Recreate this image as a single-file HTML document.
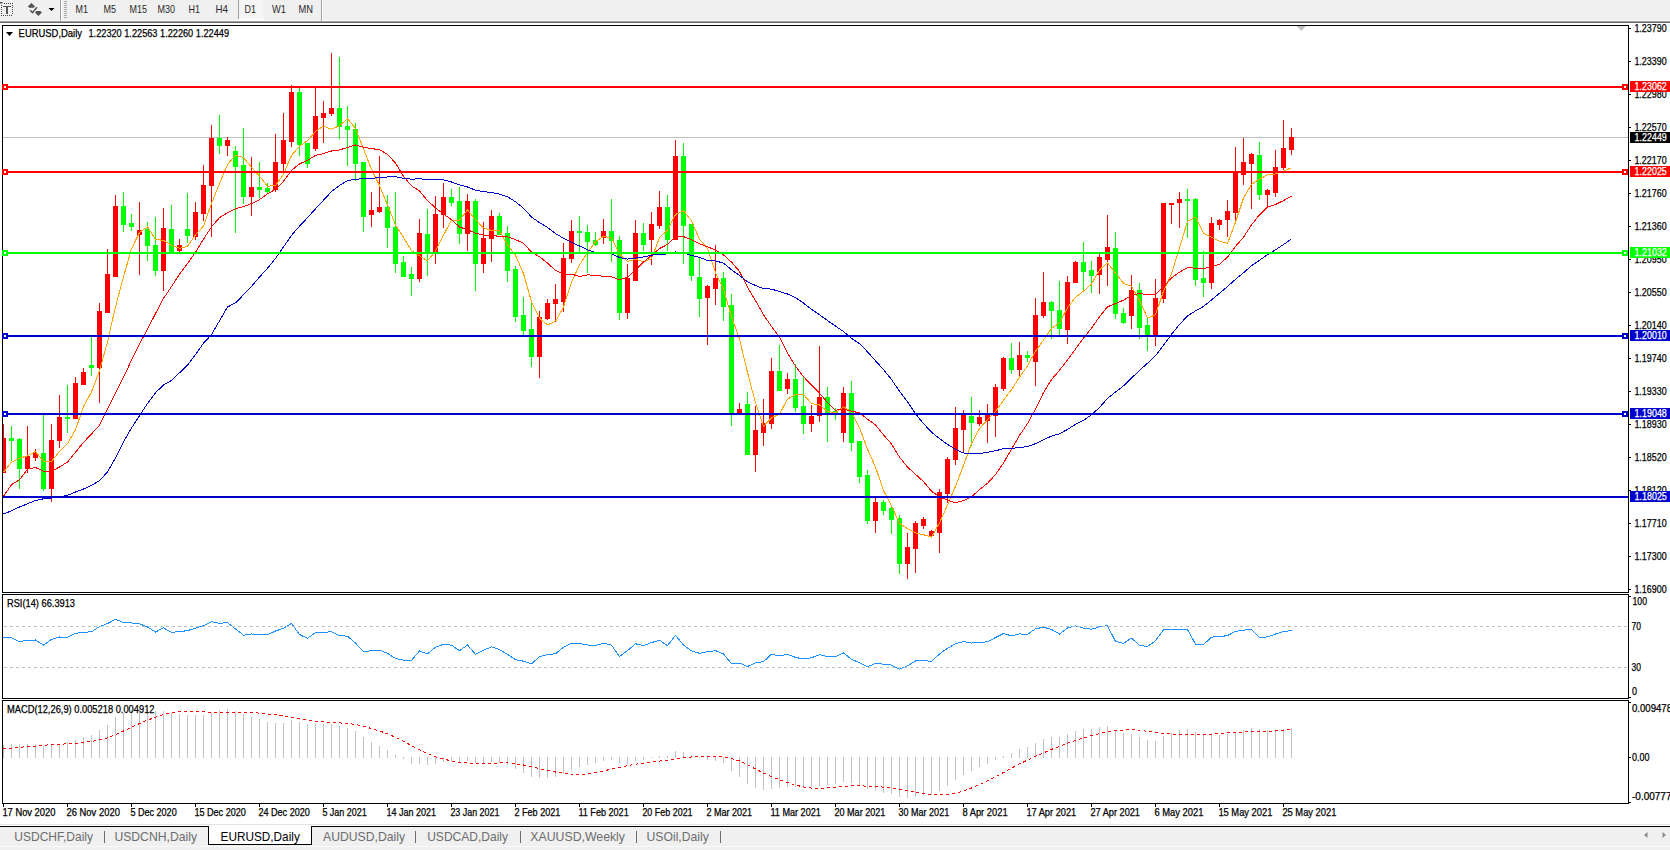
<!DOCTYPE html>
<html><head><meta charset="utf-8"><title>EURUSD,Daily</title>
<style>html,body{margin:0;padding:0;background:#fff;overflow:hidden;}svg{display:block;}text{font-family:"Liberation Sans", sans-serif;}</style>
</head><body>
<svg width="1670" height="850" viewBox="0 0 1670 850" font-family='"Liberation Sans", sans-serif'><rect x="0" y="0" width="1670" height="20" fill="#f0f0f0"/>
<rect x="0" y="20" width="1670" height="1" fill="#fafafa"/>
<rect x="0" y="21" width="1670" height="1" fill="#a0a0a0"/>
<rect x="0" y="22" width="1670" height="1" fill="#696969"/>
<rect x="4" y="3" width="1" height="1" fill="#444"/>
<rect x="6" y="3" width="1" height="1" fill="#444"/>
<rect x="8" y="3" width="1" height="1" fill="#444"/>
<rect x="10" y="3" width="1" height="1" fill="#444"/>
<rect x="12" y="3" width="1" height="1" fill="#444"/>
<rect x="1" y="5" width="1" height="1" fill="#444"/>
<rect x="1" y="7" width="1" height="1" fill="#444"/>
<rect x="1" y="9" width="1" height="1" fill="#444"/>
<rect x="1" y="11" width="1" height="1" fill="#444"/>
<rect x="1" y="13" width="1" height="1" fill="#444"/>
<rect x="1" y="15" width="1" height="1" fill="#444"/>
<rect x="3" y="15" width="1" height="1" fill="#444"/>
<rect x="5" y="15" width="1" height="1" fill="#444"/>
<rect x="7" y="15" width="1" height="1" fill="#444"/>
<rect x="9" y="15" width="1" height="1" fill="#444"/>
<rect x="11" y="15" width="1" height="1" fill="#444"/>
<rect x="12" y="5" width="1" height="1" fill="#444"/>
<rect x="12" y="7" width="1" height="1" fill="#444"/>
<rect x="12" y="9" width="1" height="1" fill="#444"/>
<rect x="12" y="11" width="1" height="1" fill="#444"/>
<rect x="12" y="13" width="1" height="1" fill="#444"/>
<rect x="0" y="2" width="2.5" height="1.4" fill="#444"/>
<rect x="3" y="6" width="8" height="1" fill="#555"/>
<rect x="6" y="6" width="2" height="8" fill="#555"/>
<path d="M31.4,2.9 L35,6.4 L33.6,7.7 L29.3,7.7 L27.9,6.4 Z" fill="#505050"/>
<path d="M36.6,11.1 L40.3,11.1 L41.9,12.5 L38.4,16 L35,12.5 Z" fill="#505050"/>
<path d="M30.2,10.3 L32.5,12.6 L36.9,7.3" fill="none" stroke="#505050" stroke-width="1.4"/>
<path d="M48.5,8 L54.5,8 L51.5,11 Z" fill="#000"/>
<rect x="60" y="0" width="1" height="21" fill="#a0a0a0"/>
<rect x="61" y="0" width="1" height="21" fill="#ffffff"/>
<rect x="64" y="1" width="3" height="1" fill="#a8a8a8"/>
<rect x="64" y="3" width="3" height="1" fill="#a8a8a8"/>
<rect x="64" y="5" width="3" height="1" fill="#a8a8a8"/>
<rect x="64" y="7" width="3" height="1" fill="#a8a8a8"/>
<rect x="64" y="9" width="3" height="1" fill="#a8a8a8"/>
<rect x="64" y="11" width="3" height="1" fill="#a8a8a8"/>
<rect x="64" y="13" width="3" height="1" fill="#a8a8a8"/>
<rect x="64" y="15" width="3" height="1" fill="#a8a8a8"/>
<rect x="64" y="17" width="3" height="1" fill="#a8a8a8"/>
<defs><pattern id="chk" width="2" height="2" patternUnits="userSpaceOnUse"><rect width="2" height="2" fill="#f0f0f0"/><rect width="1" height="1" fill="#fafafa"/><rect x="1" y="1" width="1" height="1" fill="#fafafa"/></pattern></defs>
<rect x="239" y="0" width="24" height="19" fill="url(#chk)"/>
<rect x="238" y="0" width="1" height="19" fill="#a0a0a0"/>
<rect x="238" y="19" width="26" height="1" fill="#ffffff"/>
<rect x="321" y="0" width="1" height="21" fill="#a0a0a0"/>
<rect x="322" y="0" width="1" height="21" fill="#ffffff"/>
<text x="75.5" y="13.2" font-size="10.4" fill="#2a2a2a" text-anchor="start" font-weight="normal" textLength="12.5" lengthAdjust="spacingAndGlyphs">M1</text>
<text x="103.5" y="13.2" font-size="10.4" fill="#2a2a2a" text-anchor="start" font-weight="normal" textLength="12.5" lengthAdjust="spacingAndGlyphs">M5</text>
<text x="129.5" y="13.2" font-size="10.4" fill="#2a2a2a" text-anchor="start" font-weight="normal" textLength="17.5" lengthAdjust="spacingAndGlyphs">M15</text>
<text x="157.5" y="13.2" font-size="10.4" fill="#2a2a2a" text-anchor="start" font-weight="normal" textLength="17.5" lengthAdjust="spacingAndGlyphs">M30</text>
<text x="188.5" y="13.2" font-size="10.4" fill="#2a2a2a" text-anchor="start" font-weight="normal" textLength="11.5" lengthAdjust="spacingAndGlyphs">H1</text>
<text x="215.5" y="13.2" font-size="10.4" fill="#2a2a2a" text-anchor="start" font-weight="normal" textLength="12.5" lengthAdjust="spacingAndGlyphs">H4</text>
<text x="244.5" y="13.2" font-size="10.4" fill="#2a2a2a" text-anchor="start" font-weight="normal" textLength="11.5" lengthAdjust="spacingAndGlyphs">D1</text>
<text x="272" y="13.2" font-size="10.4" fill="#2a2a2a" text-anchor="start" font-weight="normal" textLength="14" lengthAdjust="spacingAndGlyphs">W1</text>
<text x="298.5" y="13.2" font-size="10.4" fill="#2a2a2a" text-anchor="start" font-weight="normal" textLength="14.5" lengthAdjust="spacingAndGlyphs">MN</text>
<rect x="0" y="23" width="1670" height="801" fill="#ffffff"/>
<rect x="2" y="25" width="1627" height="1" fill="#000"/>
<rect x="2" y="592" width="1627" height="1" fill="#000"/>
<rect x="2" y="25" width="1" height="568" fill="#000"/>
<rect x="1628" y="25" width="1" height="568" fill="#000"/>
<rect x="2" y="594" width="1627" height="1" fill="#000"/>
<rect x="2" y="698" width="1627" height="1" fill="#000"/>
<rect x="2" y="594" width="1" height="105" fill="#000"/>
<rect x="1628" y="594" width="1" height="105" fill="#000"/>
<rect x="2" y="700" width="1627" height="1" fill="#000"/>
<rect x="2" y="803" width="1627" height="1" fill="#000"/>
<rect x="2" y="700" width="1" height="104" fill="#000"/>
<rect x="1628" y="700" width="1" height="104" fill="#000"/>
<rect x="1629" y="28" width="2" height="1" fill="#000"/>
<text x="1634.4" y="32" font-size="10.2" fill="#000" text-anchor="start" font-weight="normal" textLength="32.2" lengthAdjust="spacingAndGlyphs" stroke="#000" stroke-width="0.25">1.23790</text>
<rect x="1629" y="61" width="2" height="1" fill="#000"/>
<text x="1634.4" y="65" font-size="10.2" fill="#000" text-anchor="start" font-weight="normal" textLength="32.2" lengthAdjust="spacingAndGlyphs" stroke="#000" stroke-width="0.25">1.23390</text>
<rect x="1629" y="94" width="2" height="1" fill="#000"/>
<text x="1634.4" y="98" font-size="10.2" fill="#000" text-anchor="start" font-weight="normal" textLength="32.2" lengthAdjust="spacingAndGlyphs" stroke="#000" stroke-width="0.25">1.22980</text>
<rect x="1629" y="127" width="2" height="1" fill="#000"/>
<text x="1634.4" y="131" font-size="10.2" fill="#000" text-anchor="start" font-weight="normal" textLength="32.2" lengthAdjust="spacingAndGlyphs" stroke="#000" stroke-width="0.25">1.22570</text>
<rect x="1629" y="160" width="2" height="1" fill="#000"/>
<text x="1634.4" y="164" font-size="10.2" fill="#000" text-anchor="start" font-weight="normal" textLength="32.2" lengthAdjust="spacingAndGlyphs" stroke="#000" stroke-width="0.25">1.22170</text>
<rect x="1629" y="193" width="2" height="1" fill="#000"/>
<text x="1634.4" y="197" font-size="10.2" fill="#000" text-anchor="start" font-weight="normal" textLength="32.2" lengthAdjust="spacingAndGlyphs" stroke="#000" stroke-width="0.25">1.21760</text>
<rect x="1629" y="226" width="2" height="1" fill="#000"/>
<text x="1634.4" y="230" font-size="10.2" fill="#000" text-anchor="start" font-weight="normal" textLength="32.2" lengthAdjust="spacingAndGlyphs" stroke="#000" stroke-width="0.25">1.21360</text>
<rect x="1629" y="259" width="2" height="1" fill="#000"/>
<text x="1634.4" y="263" font-size="10.2" fill="#000" text-anchor="start" font-weight="normal" textLength="32.2" lengthAdjust="spacingAndGlyphs" stroke="#000" stroke-width="0.25">1.20950</text>
<rect x="1629" y="292" width="2" height="1" fill="#000"/>
<text x="1634.4" y="296" font-size="10.2" fill="#000" text-anchor="start" font-weight="normal" textLength="32.2" lengthAdjust="spacingAndGlyphs" stroke="#000" stroke-width="0.25">1.20550</text>
<rect x="1629" y="325" width="2" height="1" fill="#000"/>
<text x="1634.4" y="329" font-size="10.2" fill="#000" text-anchor="start" font-weight="normal" textLength="32.2" lengthAdjust="spacingAndGlyphs" stroke="#000" stroke-width="0.25">1.20140</text>
<rect x="1629" y="358" width="2" height="1" fill="#000"/>
<text x="1634.4" y="362" font-size="10.2" fill="#000" text-anchor="start" font-weight="normal" textLength="32.2" lengthAdjust="spacingAndGlyphs" stroke="#000" stroke-width="0.25">1.19740</text>
<rect x="1629" y="391" width="2" height="1" fill="#000"/>
<text x="1634.4" y="395" font-size="10.2" fill="#000" text-anchor="start" font-weight="normal" textLength="32.2" lengthAdjust="spacingAndGlyphs" stroke="#000" stroke-width="0.25">1.19330</text>
<rect x="1629" y="424" width="2" height="1" fill="#000"/>
<text x="1634.4" y="428" font-size="10.2" fill="#000" text-anchor="start" font-weight="normal" textLength="32.2" lengthAdjust="spacingAndGlyphs" stroke="#000" stroke-width="0.25">1.18930</text>
<rect x="1629" y="457" width="2" height="1" fill="#000"/>
<text x="1634.4" y="461" font-size="10.2" fill="#000" text-anchor="start" font-weight="normal" textLength="32.2" lengthAdjust="spacingAndGlyphs" stroke="#000" stroke-width="0.25">1.18520</text>
<rect x="1629" y="490" width="2" height="1" fill="#000"/>
<text x="1634.4" y="494" font-size="10.2" fill="#000" text-anchor="start" font-weight="normal" textLength="32.2" lengthAdjust="spacingAndGlyphs" stroke="#000" stroke-width="0.25">1.18120</text>
<rect x="1629" y="523" width="2" height="1" fill="#000"/>
<text x="1634.4" y="527" font-size="10.2" fill="#000" text-anchor="start" font-weight="normal" textLength="32.2" lengthAdjust="spacingAndGlyphs" stroke="#000" stroke-width="0.25">1.17710</text>
<rect x="1629" y="556" width="2" height="1" fill="#000"/>
<text x="1634.4" y="560" font-size="10.2" fill="#000" text-anchor="start" font-weight="normal" textLength="32.2" lengthAdjust="spacingAndGlyphs" stroke="#000" stroke-width="0.25">1.17300</text>
<rect x="1629" y="589" width="2" height="1" fill="#000"/>
<text x="1634.4" y="593" font-size="10.2" fill="#000" text-anchor="start" font-weight="normal" textLength="32.2" lengthAdjust="spacingAndGlyphs" stroke="#000" stroke-width="0.25">1.16900</text>
<path d="M1296.6,26 L1306,26 L1301.3,31 Z" fill="#c0c0c0"/>
<rect x="3" y="137" width="1625" height="1" fill="#c0c0c0"/>
<g shape-rendering="crispEdges">
<rect x="3" y="424" width="1" height="49" fill="#ff0000"/>
<rect x="3" y="438" width="3" height="35" fill="#ff0000"/>
<rect x="11" y="426" width="1" height="35" fill="#00ff00"/>
<rect x="9" y="438" width="5" height="3" fill="#00ff00"/>
<rect x="19" y="438" width="1" height="51" fill="#00ff00"/>
<rect x="17" y="439" width="5" height="30" fill="#00ff00"/>
<rect x="27" y="426" width="1" height="47" fill="#ff0000"/>
<rect x="25" y="456" width="5" height="13" fill="#ff0000"/>
<rect x="35" y="449" width="1" height="12" fill="#ff0000"/>
<rect x="33" y="453" width="5" height="5" fill="#ff0000"/>
<rect x="43" y="415" width="1" height="76" fill="#00ff00"/>
<rect x="41" y="453" width="5" height="36" fill="#00ff00"/>
<rect x="51" y="424" width="1" height="78" fill="#ff0000"/>
<rect x="49" y="440" width="5" height="49" fill="#ff0000"/>
<rect x="59" y="395" width="1" height="53" fill="#ff0000"/>
<rect x="57" y="417" width="5" height="24" fill="#ff0000"/>
<rect x="67" y="385" width="1" height="48" fill="#00ff00"/>
<rect x="65" y="417" width="5" height="2" fill="#00ff00"/>
<rect x="75" y="377" width="1" height="42" fill="#ff0000"/>
<rect x="73" y="383" width="5" height="36" fill="#ff0000"/>
<rect x="83" y="368" width="1" height="17" fill="#ff0000"/>
<rect x="81" y="372" width="5" height="13" fill="#ff0000"/>
<rect x="91" y="337" width="1" height="39" fill="#00ff00"/>
<rect x="89" y="365" width="5" height="3" fill="#00ff00"/>
<rect x="99" y="303" width="1" height="100" fill="#ff0000"/>
<rect x="97" y="311" width="5" height="57" fill="#ff0000"/>
<rect x="107" y="249" width="1" height="64" fill="#ff0000"/>
<rect x="105" y="274" width="5" height="39" fill="#ff0000"/>
<rect x="115" y="195" width="1" height="82" fill="#ff0000"/>
<rect x="113" y="206" width="5" height="71" fill="#ff0000"/>
<rect x="123" y="192" width="1" height="40" fill="#00ff00"/>
<rect x="121" y="206" width="5" height="19" fill="#00ff00"/>
<rect x="131" y="214" width="1" height="17" fill="#00ff00"/>
<rect x="129" y="223" width="5" height="4" fill="#00ff00"/>
<rect x="139" y="202" width="1" height="73" fill="#ff0000"/>
<rect x="137" y="230" width="5" height="5" fill="#ff0000"/>
<rect x="147" y="222" width="1" height="39" fill="#00ff00"/>
<rect x="145" y="229" width="5" height="17" fill="#00ff00"/>
<rect x="155" y="217" width="1" height="59" fill="#00ff00"/>
<rect x="153" y="245" width="5" height="26" fill="#00ff00"/>
<rect x="163" y="208" width="1" height="83" fill="#ff0000"/>
<rect x="161" y="228" width="5" height="43" fill="#ff0000"/>
<rect x="171" y="205" width="1" height="48" fill="#00ff00"/>
<rect x="169" y="229" width="5" height="23" fill="#00ff00"/>
<rect x="179" y="239" width="1" height="13" fill="#ff0000"/>
<rect x="177" y="245" width="5" height="6" fill="#ff0000"/>
<rect x="187" y="193" width="1" height="50" fill="#00ff00"/>
<rect x="185" y="229" width="5" height="7" fill="#00ff00"/>
<rect x="195" y="202" width="1" height="38" fill="#ff0000"/>
<rect x="193" y="212" width="5" height="25" fill="#ff0000"/>
<rect x="203" y="165" width="1" height="56" fill="#ff0000"/>
<rect x="201" y="185" width="5" height="29" fill="#ff0000"/>
<rect x="211" y="125" width="1" height="112" fill="#ff0000"/>
<rect x="209" y="138" width="5" height="48" fill="#ff0000"/>
<rect x="219" y="115" width="1" height="39" fill="#00ff00"/>
<rect x="217" y="138" width="5" height="8" fill="#00ff00"/>
<rect x="227" y="137" width="1" height="19" fill="#ff0000"/>
<rect x="225" y="140" width="5" height="6" fill="#ff0000"/>
<rect x="235" y="146" width="1" height="87" fill="#00ff00"/>
<rect x="233" y="151" width="5" height="16" fill="#00ff00"/>
<rect x="243" y="128" width="1" height="76" fill="#00ff00"/>
<rect x="241" y="165" width="5" height="32" fill="#00ff00"/>
<rect x="251" y="157" width="1" height="59" fill="#ff0000"/>
<rect x="249" y="187" width="5" height="10" fill="#ff0000"/>
<rect x="259" y="162" width="1" height="36" fill="#00ff00"/>
<rect x="257" y="187" width="5" height="3" fill="#00ff00"/>
<rect x="267" y="183" width="1" height="10" fill="#00ff00"/>
<rect x="265" y="188" width="5" height="4" fill="#00ff00"/>
<rect x="275" y="134" width="1" height="58" fill="#ff0000"/>
<rect x="273" y="162" width="5" height="28" fill="#ff0000"/>
<rect x="283" y="113" width="1" height="59" fill="#ff0000"/>
<rect x="281" y="140" width="5" height="24" fill="#ff0000"/>
<rect x="291" y="85" width="1" height="62" fill="#ff0000"/>
<rect x="289" y="92" width="5" height="50" fill="#ff0000"/>
<rect x="299" y="88" width="1" height="68" fill="#00ff00"/>
<rect x="297" y="92" width="5" height="53" fill="#00ff00"/>
<rect x="307" y="143" width="1" height="25" fill="#00ff00"/>
<rect x="305" y="143" width="5" height="21" fill="#00ff00"/>
<rect x="315" y="88" width="1" height="63" fill="#ff0000"/>
<rect x="313" y="116" width="5" height="33" fill="#ff0000"/>
<rect x="323" y="101" width="1" height="42" fill="#ff0000"/>
<rect x="321" y="113" width="5" height="5" fill="#ff0000"/>
<rect x="331" y="53" width="1" height="63" fill="#ff0000"/>
<rect x="329" y="108" width="5" height="6" fill="#ff0000"/>
<rect x="339" y="57" width="1" height="82" fill="#00ff00"/>
<rect x="337" y="108" width="5" height="19" fill="#00ff00"/>
<rect x="347" y="106" width="1" height="60" fill="#00ff00"/>
<rect x="345" y="126" width="5" height="4" fill="#00ff00"/>
<rect x="355" y="123" width="1" height="58" fill="#00ff00"/>
<rect x="353" y="129" width="5" height="35" fill="#00ff00"/>
<rect x="363" y="162" width="1" height="70" fill="#00ff00"/>
<rect x="361" y="162" width="5" height="55" fill="#00ff00"/>
<rect x="371" y="192" width="1" height="35" fill="#ff0000"/>
<rect x="369" y="210" width="5" height="5" fill="#ff0000"/>
<rect x="379" y="156" width="1" height="57" fill="#ff0000"/>
<rect x="377" y="207" width="5" height="5" fill="#ff0000"/>
<rect x="387" y="195" width="1" height="53" fill="#00ff00"/>
<rect x="385" y="207" width="5" height="21" fill="#00ff00"/>
<rect x="395" y="192" width="1" height="81" fill="#00ff00"/>
<rect x="393" y="227" width="5" height="37" fill="#00ff00"/>
<rect x="403" y="256" width="1" height="21" fill="#00ff00"/>
<rect x="401" y="262" width="5" height="15" fill="#00ff00"/>
<rect x="411" y="267" width="1" height="29" fill="#00ff00"/>
<rect x="409" y="274" width="5" height="5" fill="#00ff00"/>
<rect x="419" y="219" width="1" height="63" fill="#ff0000"/>
<rect x="417" y="233" width="5" height="46" fill="#ff0000"/>
<rect x="427" y="209" width="1" height="67" fill="#00ff00"/>
<rect x="425" y="234" width="5" height="19" fill="#00ff00"/>
<rect x="435" y="196" width="1" height="68" fill="#ff0000"/>
<rect x="433" y="214" width="5" height="39" fill="#ff0000"/>
<rect x="443" y="183" width="1" height="45" fill="#ff0000"/>
<rect x="441" y="197" width="5" height="18" fill="#ff0000"/>
<rect x="451" y="189" width="1" height="17" fill="#00ff00"/>
<rect x="449" y="197" width="5" height="6" fill="#00ff00"/>
<rect x="459" y="187" width="1" height="57" fill="#00ff00"/>
<rect x="457" y="201" width="5" height="33" fill="#00ff00"/>
<rect x="467" y="194" width="1" height="57" fill="#ff0000"/>
<rect x="465" y="201" width="5" height="33" fill="#ff0000"/>
<rect x="475" y="199" width="1" height="92" fill="#00ff00"/>
<rect x="473" y="201" width="5" height="63" fill="#00ff00"/>
<rect x="483" y="222" width="1" height="51" fill="#ff0000"/>
<rect x="481" y="238" width="5" height="26" fill="#ff0000"/>
<rect x="491" y="210" width="1" height="52" fill="#ff0000"/>
<rect x="489" y="216" width="5" height="23" fill="#ff0000"/>
<rect x="499" y="213" width="1" height="22" fill="#00ff00"/>
<rect x="497" y="216" width="5" height="19" fill="#00ff00"/>
<rect x="507" y="226" width="1" height="56" fill="#00ff00"/>
<rect x="505" y="233" width="5" height="38" fill="#00ff00"/>
<rect x="515" y="266" width="1" height="56" fill="#00ff00"/>
<rect x="513" y="269" width="5" height="48" fill="#00ff00"/>
<rect x="523" y="297" width="1" height="39" fill="#00ff00"/>
<rect x="521" y="315" width="5" height="16" fill="#00ff00"/>
<rect x="531" y="302" width="1" height="65" fill="#00ff00"/>
<rect x="529" y="329" width="5" height="28" fill="#00ff00"/>
<rect x="539" y="311" width="1" height="67" fill="#ff0000"/>
<rect x="537" y="317" width="5" height="40" fill="#ff0000"/>
<rect x="547" y="299" width="1" height="21" fill="#ff0000"/>
<rect x="545" y="303" width="5" height="16" fill="#ff0000"/>
<rect x="555" y="284" width="1" height="38" fill="#ff0000"/>
<rect x="553" y="299" width="5" height="5" fill="#ff0000"/>
<rect x="563" y="243" width="1" height="69" fill="#ff0000"/>
<rect x="561" y="258" width="5" height="44" fill="#ff0000"/>
<rect x="571" y="220" width="1" height="43" fill="#ff0000"/>
<rect x="569" y="231" width="5" height="28" fill="#ff0000"/>
<rect x="579" y="216" width="1" height="37" fill="#00ff00"/>
<rect x="577" y="231" width="5" height="2" fill="#00ff00"/>
<rect x="587" y="225" width="1" height="48" fill="#00ff00"/>
<rect x="585" y="232" width="5" height="10" fill="#00ff00"/>
<rect x="595" y="232" width="1" height="14" fill="#00ff00"/>
<rect x="593" y="240" width="5" height="5" fill="#00ff00"/>
<rect x="603" y="219" width="1" height="25" fill="#ff0000"/>
<rect x="601" y="231" width="5" height="7" fill="#ff0000"/>
<rect x="611" y="199" width="1" height="63" fill="#00ff00"/>
<rect x="609" y="231" width="5" height="10" fill="#00ff00"/>
<rect x="619" y="236" width="1" height="84" fill="#00ff00"/>
<rect x="617" y="240" width="5" height="73" fill="#00ff00"/>
<rect x="627" y="264" width="1" height="55" fill="#ff0000"/>
<rect x="625" y="278" width="5" height="35" fill="#ff0000"/>
<rect x="635" y="220" width="1" height="61" fill="#ff0000"/>
<rect x="633" y="233" width="5" height="48" fill="#ff0000"/>
<rect x="643" y="223" width="1" height="28" fill="#00ff00"/>
<rect x="641" y="233" width="5" height="12" fill="#00ff00"/>
<rect x="651" y="212" width="1" height="53" fill="#ff0000"/>
<rect x="649" y="224" width="5" height="16" fill="#ff0000"/>
<rect x="659" y="191" width="1" height="38" fill="#ff0000"/>
<rect x="657" y="207" width="5" height="19" fill="#ff0000"/>
<rect x="667" y="195" width="1" height="56" fill="#00ff00"/>
<rect x="665" y="207" width="5" height="33" fill="#00ff00"/>
<rect x="675" y="140" width="1" height="100" fill="#ff0000"/>
<rect x="673" y="156" width="5" height="84" fill="#ff0000"/>
<rect x="683" y="143" width="1" height="121" fill="#00ff00"/>
<rect x="681" y="156" width="5" height="70" fill="#00ff00"/>
<rect x="691" y="224" width="1" height="57" fill="#00ff00"/>
<rect x="689" y="224" width="5" height="52" fill="#00ff00"/>
<rect x="699" y="258" width="1" height="59" fill="#00ff00"/>
<rect x="697" y="277" width="5" height="22" fill="#00ff00"/>
<rect x="707" y="285" width="1" height="60" fill="#ff0000"/>
<rect x="705" y="286" width="5" height="12" fill="#ff0000"/>
<rect x="715" y="245" width="1" height="60" fill="#ff0000"/>
<rect x="713" y="278" width="5" height="11" fill="#ff0000"/>
<rect x="723" y="272" width="1" height="49" fill="#00ff00"/>
<rect x="721" y="278" width="5" height="29" fill="#00ff00"/>
<rect x="731" y="294" width="1" height="132" fill="#00ff00"/>
<rect x="729" y="305" width="5" height="109" fill="#00ff00"/>
<rect x="739" y="403" width="1" height="12" fill="#ff0000"/>
<rect x="737" y="409" width="5" height="5" fill="#ff0000"/>
<rect x="747" y="392" width="1" height="63" fill="#00ff00"/>
<rect x="745" y="404" width="5" height="51" fill="#00ff00"/>
<rect x="755" y="406" width="1" height="66" fill="#ff0000"/>
<rect x="753" y="430" width="5" height="25" fill="#ff0000"/>
<rect x="763" y="399" width="1" height="47" fill="#ff0000"/>
<rect x="761" y="423" width="5" height="10" fill="#ff0000"/>
<rect x="771" y="358" width="1" height="71" fill="#ff0000"/>
<rect x="769" y="371" width="5" height="53" fill="#ff0000"/>
<rect x="779" y="345" width="1" height="46" fill="#00ff00"/>
<rect x="777" y="371" width="5" height="20" fill="#00ff00"/>
<rect x="787" y="373" width="1" height="21" fill="#ff0000"/>
<rect x="785" y="379" width="5" height="10" fill="#ff0000"/>
<rect x="795" y="364" width="1" height="48" fill="#00ff00"/>
<rect x="793" y="379" width="5" height="29" fill="#00ff00"/>
<rect x="803" y="376" width="1" height="58" fill="#00ff00"/>
<rect x="801" y="406" width="5" height="18" fill="#00ff00"/>
<rect x="811" y="405" width="1" height="27" fill="#ff0000"/>
<rect x="809" y="416" width="5" height="8" fill="#ff0000"/>
<rect x="819" y="346" width="1" height="76" fill="#ff0000"/>
<rect x="817" y="397" width="5" height="19" fill="#ff0000"/>
<rect x="827" y="387" width="1" height="55" fill="#00ff00"/>
<rect x="825" y="397" width="5" height="16" fill="#00ff00"/>
<rect x="835" y="408" width="1" height="12" fill="#00ff00"/>
<rect x="833" y="411" width="5" height="3" fill="#00ff00"/>
<rect x="843" y="387" width="1" height="55" fill="#ff0000"/>
<rect x="841" y="393" width="5" height="40" fill="#ff0000"/>
<rect x="851" y="381" width="1" height="70" fill="#00ff00"/>
<rect x="849" y="393" width="5" height="50" fill="#00ff00"/>
<rect x="859" y="441" width="1" height="42" fill="#00ff00"/>
<rect x="857" y="441" width="5" height="36" fill="#00ff00"/>
<rect x="867" y="470" width="1" height="54" fill="#00ff00"/>
<rect x="865" y="475" width="5" height="46" fill="#00ff00"/>
<rect x="875" y="498" width="1" height="35" fill="#ff0000"/>
<rect x="873" y="502" width="5" height="19" fill="#ff0000"/>
<rect x="883" y="500" width="1" height="15" fill="#00ff00"/>
<rect x="881" y="502" width="5" height="9" fill="#00ff00"/>
<rect x="891" y="506" width="1" height="28" fill="#00ff00"/>
<rect x="889" y="508" width="5" height="12" fill="#00ff00"/>
<rect x="899" y="515" width="1" height="59" fill="#00ff00"/>
<rect x="897" y="518" width="5" height="46" fill="#00ff00"/>
<rect x="907" y="533" width="1" height="46" fill="#ff0000"/>
<rect x="905" y="547" width="5" height="17" fill="#ff0000"/>
<rect x="915" y="521" width="1" height="52" fill="#ff0000"/>
<rect x="913" y="523" width="5" height="26" fill="#ff0000"/>
<rect x="923" y="517" width="1" height="12" fill="#ff0000"/>
<rect x="921" y="519" width="5" height="7" fill="#ff0000"/>
<rect x="931" y="530" width="1" height="8" fill="#ff0000"/>
<rect x="929" y="531" width="5" height="5" fill="#ff0000"/>
<rect x="939" y="489" width="1" height="64" fill="#ff0000"/>
<rect x="937" y="492" width="5" height="41" fill="#ff0000"/>
<rect x="947" y="457" width="1" height="46" fill="#ff0000"/>
<rect x="945" y="459" width="5" height="35" fill="#ff0000"/>
<rect x="955" y="407" width="1" height="58" fill="#ff0000"/>
<rect x="953" y="428" width="5" height="32" fill="#ff0000"/>
<rect x="963" y="410" width="1" height="43" fill="#ff0000"/>
<rect x="961" y="414" width="5" height="16" fill="#ff0000"/>
<rect x="971" y="397" width="1" height="49" fill="#00ff00"/>
<rect x="969" y="416" width="5" height="7" fill="#00ff00"/>
<rect x="979" y="410" width="1" height="16" fill="#ff0000"/>
<rect x="977" y="417" width="5" height="7" fill="#ff0000"/>
<rect x="987" y="404" width="1" height="39" fill="#ff0000"/>
<rect x="985" y="415" width="5" height="6" fill="#ff0000"/>
<rect x="995" y="384" width="1" height="53" fill="#ff0000"/>
<rect x="993" y="387" width="5" height="29" fill="#ff0000"/>
<rect x="1003" y="357" width="1" height="34" fill="#ff0000"/>
<rect x="1001" y="358" width="5" height="31" fill="#ff0000"/>
<rect x="1011" y="343" width="1" height="31" fill="#00ff00"/>
<rect x="1009" y="358" width="5" height="12" fill="#00ff00"/>
<rect x="1019" y="342" width="1" height="36" fill="#ff0000"/>
<rect x="1017" y="355" width="5" height="15" fill="#ff0000"/>
<rect x="1027" y="351" width="1" height="11" fill="#00ff00"/>
<rect x="1025" y="355" width="5" height="3" fill="#00ff00"/>
<rect x="1035" y="298" width="1" height="88" fill="#ff0000"/>
<rect x="1033" y="315" width="5" height="47" fill="#ff0000"/>
<rect x="1043" y="272" width="1" height="46" fill="#ff0000"/>
<rect x="1041" y="302" width="5" height="14" fill="#ff0000"/>
<rect x="1051" y="301" width="1" height="38" fill="#00ff00"/>
<rect x="1049" y="302" width="5" height="9" fill="#00ff00"/>
<rect x="1059" y="281" width="1" height="55" fill="#00ff00"/>
<rect x="1057" y="310" width="5" height="19" fill="#00ff00"/>
<rect x="1067" y="276" width="1" height="68" fill="#ff0000"/>
<rect x="1065" y="282" width="5" height="48" fill="#ff0000"/>
<rect x="1075" y="261" width="1" height="22" fill="#ff0000"/>
<rect x="1073" y="262" width="5" height="21" fill="#ff0000"/>
<rect x="1083" y="242" width="1" height="48" fill="#00ff00"/>
<rect x="1081" y="262" width="5" height="10" fill="#00ff00"/>
<rect x="1091" y="261" width="1" height="32" fill="#00ff00"/>
<rect x="1089" y="270" width="5" height="6" fill="#00ff00"/>
<rect x="1099" y="254" width="1" height="40" fill="#ff0000"/>
<rect x="1097" y="257" width="5" height="18" fill="#ff0000"/>
<rect x="1107" y="215" width="1" height="71" fill="#ff0000"/>
<rect x="1105" y="247" width="5" height="13" fill="#ff0000"/>
<rect x="1115" y="232" width="1" height="87" fill="#00ff00"/>
<rect x="1113" y="248" width="5" height="66" fill="#00ff00"/>
<rect x="1123" y="308" width="1" height="16" fill="#00ff00"/>
<rect x="1121" y="313" width="5" height="10" fill="#00ff00"/>
<rect x="1131" y="275" width="1" height="54" fill="#ff0000"/>
<rect x="1129" y="290" width="5" height="26" fill="#ff0000"/>
<rect x="1139" y="283" width="1" height="56" fill="#00ff00"/>
<rect x="1137" y="290" width="5" height="38" fill="#00ff00"/>
<rect x="1147" y="318" width="1" height="33" fill="#00ff00"/>
<rect x="1145" y="325" width="5" height="11" fill="#00ff00"/>
<rect x="1155" y="279" width="1" height="67" fill="#ff0000"/>
<rect x="1153" y="298" width="5" height="38" fill="#ff0000"/>
<rect x="1163" y="203" width="1" height="100" fill="#ff0000"/>
<rect x="1161" y="203" width="5" height="96" fill="#ff0000"/>
<rect x="1171" y="203" width="1" height="21" fill="#ff0000"/>
<rect x="1169" y="203" width="5" height="2" fill="#ff0000"/>
<rect x="1179" y="192" width="1" height="36" fill="#ff0000"/>
<rect x="1177" y="199" width="5" height="4" fill="#ff0000"/>
<rect x="1187" y="189" width="1" height="49" fill="#00ff00"/>
<rect x="1185" y="199" width="5" height="2" fill="#00ff00"/>
<rect x="1195" y="198" width="1" height="88" fill="#00ff00"/>
<rect x="1193" y="199" width="5" height="81" fill="#00ff00"/>
<rect x="1203" y="251" width="1" height="46" fill="#00ff00"/>
<rect x="1201" y="278" width="5" height="5" fill="#00ff00"/>
<rect x="1211" y="217" width="1" height="72" fill="#ff0000"/>
<rect x="1209" y="223" width="5" height="60" fill="#ff0000"/>
<rect x="1219" y="219" width="1" height="11" fill="#ff0000"/>
<rect x="1217" y="220" width="5" height="5" fill="#ff0000"/>
<rect x="1227" y="200" width="1" height="37" fill="#ff0000"/>
<rect x="1225" y="211" width="5" height="9" fill="#ff0000"/>
<rect x="1235" y="147" width="1" height="75" fill="#ff0000"/>
<rect x="1233" y="172" width="5" height="41" fill="#ff0000"/>
<rect x="1243" y="138" width="1" height="47" fill="#ff0000"/>
<rect x="1241" y="162" width="5" height="13" fill="#ff0000"/>
<rect x="1251" y="153" width="1" height="56" fill="#ff0000"/>
<rect x="1249" y="154" width="5" height="10" fill="#ff0000"/>
<rect x="1259" y="142" width="1" height="58" fill="#00ff00"/>
<rect x="1257" y="155" width="5" height="40" fill="#00ff00"/>
<rect x="1267" y="189" width="1" height="18" fill="#ff0000"/>
<rect x="1265" y="190" width="5" height="5" fill="#ff0000"/>
<rect x="1275" y="150" width="1" height="47" fill="#ff0000"/>
<rect x="1273" y="167" width="5" height="26" fill="#ff0000"/>
<rect x="1283" y="120" width="1" height="50" fill="#ff0000"/>
<rect x="1281" y="148" width="5" height="20" fill="#ff0000"/>
<rect x="1291" y="128" width="1" height="27" fill="#ff0000"/>
<rect x="1289" y="137" width="5" height="13" fill="#ff0000"/>
</g>
<polyline points="3.5,472.3 11.5,462.1 19.5,458.2 27.5,455.8 35.5,451.5 43.5,461.5 51.5,461.5 59.5,451.3 67.5,443.7 75.5,429.7 83.5,406.5 91.5,391.9 99.5,370.7 107.5,341.9 115.5,306.5 123.5,276.9 131.5,248.7 139.5,232.5 147.5,226.7 155.5,239.5 163.5,240.3 171.5,245.3 179.5,248.3 187.5,246.3 195.5,234.7 203.5,226.1 211.5,203.5 219.5,183.5 227.5,164.5 235.5,155.3 243.5,157.5 251.5,167.3 259.5,176.1 267.5,186.3 275.5,185.5 283.5,174.3 291.5,155.3 299.5,146.3 307.5,140.7 315.5,131.5 323.5,126.1 331.5,129.3 339.5,125.7 347.5,118.9 355.5,128.3 363.5,148.9 371.5,169.3 379.5,185.5 387.5,205.1 395.5,225.1 403.5,237.1 411.5,250.7 419.5,255.9 427.5,260.9 435.5,251.1 443.5,235.3 451.5,220.1 459.5,220.1 467.5,209.9 475.5,219.7 483.5,227.9 491.5,230.7 499.5,230.9 507.5,244.7 515.5,255.3 523.5,273.7 531.5,301.7 539.5,318.3 547.5,324.9 555.5,321.5 563.5,307.1 571.5,282.1 579.5,265.1 587.5,252.7 595.5,241.7 603.5,236.3 611.5,238.1 619.5,254.1 627.5,261.5 635.5,259.3 643.5,261.9 651.5,258.7 659.5,237.7 667.5,229.9 675.5,214.5 683.5,210.7 691.5,220.9 699.5,239.1 707.5,248.5 715.5,272.9 723.5,289.1 731.5,316.7 739.5,338.9 747.5,372.5 755.5,402.9 763.5,426.3 771.5,417.9 779.5,414.1 787.5,399.1 795.5,394.5 803.5,394.5 811.5,403.5 819.5,404.9 827.5,411.5 835.5,412.7 843.5,406.7 851.5,411.9 859.5,427.7 867.5,449.3 875.5,467.1 883.5,490.5 891.5,505.9 899.5,523.3 907.5,528.7 915.5,532.9 923.5,534.7 931.5,537.1 939.5,522.9 947.5,505.3 955.5,486.3 963.5,465.3 971.5,443.5 979.5,428.5 987.5,419.7 995.5,411.5 1003.5,400.3 1011.5,389.7 1019.5,377.3 1027.5,365.7 1035.5,351.3 1043.5,340.1 1051.5,328.3 1059.5,322.9 1067.5,307.9 1075.5,297.3 1083.5,291.1 1091.5,284.1 1099.5,269.9 1107.5,262.9 1115.5,273.1 1123.5,283.3 1131.5,286.3 1139.5,300.3 1147.5,317.9 1155.5,314.9 1163.5,291.1 1171.5,273.7 1179.5,248.1 1187.5,221.1 1195.5,217.3 1203.5,233.1 1211.5,237.1 1219.5,241.3 1227.5,243.5 1235.5,222.1 1243.5,198.1 1251.5,184.3 1259.5,179.1 1267.5,174.9 1275.5,173.9 1283.5,171.1 1291.5,167.7" fill="none" stroke="#ffa500" stroke-width="1" shape-rendering="crispEdges"/>
<polyline points="3.5,496.3 11.5,484.7 19.5,479.8 27.5,469.2 35.5,467.5 43.5,471.3 51.5,471.3 59.5,467.0 67.5,462.0 75.5,452.2 83.5,442.4 91.5,433.9 99.5,425.4 107.5,409.4 115.5,392.9 123.5,377.4 131.5,360.1 139.5,344.0 147.5,329.1 155.5,313.6 163.5,298.4 171.5,286.6 179.5,274.2 187.5,263.6 195.5,252.2 203.5,239.2 211.5,226.9 219.5,217.6 227.5,212.9 235.5,208.8 243.5,206.6 251.5,203.6 259.5,199.6 267.5,193.9 275.5,189.2 283.5,181.3 291.5,170.4 299.5,163.9 307.5,160.4 315.5,155.4 323.5,153.6 331.5,151.0 339.5,150.0 347.5,147.4 355.5,145.0 363.5,147.1 371.5,148.6 379.5,149.7 387.5,154.4 395.5,163.1 403.5,176.3 411.5,185.9 419.5,190.9 427.5,200.6 435.5,207.8 443.5,214.1 451.5,219.6 459.5,227.0 467.5,229.7 475.5,233.1 483.5,235.1 491.5,235.7 499.5,236.2 507.5,236.7 515.5,239.6 523.5,243.3 531.5,252.1 539.5,256.7 547.5,263.1 555.5,270.4 563.5,274.4 571.5,274.2 579.5,276.4 587.5,274.9 595.5,275.3 603.5,276.4 611.5,276.8 619.5,279.8 627.5,277.1 635.5,270.1 643.5,262.1 651.5,255.5 659.5,248.6 667.5,244.4 675.5,237.1 683.5,236.6 691.5,239.7 699.5,243.8 707.5,246.8 715.5,250.1 723.5,254.9 731.5,262.1 739.5,271.4 747.5,287.2 755.5,300.5 763.5,314.7 771.5,326.4 779.5,337.2 787.5,353.1 795.5,366.1 803.5,376.7 811.5,385.1 819.5,393.1 827.5,402.6 835.5,410.3 843.5,408.9 851.5,411.2 859.5,412.8 867.5,419.2 875.5,424.9 883.5,434.8 891.5,444.0 899.5,457.1 907.5,467.1 915.5,474.3 923.5,481.6 931.5,491.2 939.5,496.9 947.5,500.2 955.5,502.7 963.5,500.7 971.5,496.9 979.5,489.5 987.5,483.3 995.5,474.5 1003.5,463.0 1011.5,449.1 1019.5,435.4 1027.5,423.6 1035.5,409.0 1043.5,392.6 1051.5,379.6 1059.5,370.3 1067.5,359.9 1075.5,349.0 1083.5,338.2 1091.5,328.1 1099.5,316.8 1107.5,306.8 1115.5,303.6 1123.5,300.2 1131.5,295.6 1139.5,293.4 1147.5,294.9 1155.5,294.6 1163.5,286.9 1171.5,278.0 1179.5,272.1 1187.5,267.6 1195.5,268.2 1203.5,268.7 1211.5,266.3 1219.5,264.4 1227.5,257.1 1235.5,246.4 1243.5,237.2 1251.5,224.9 1259.5,214.8 1267.5,207.1 1275.5,204.5 1283.5,200.6 1291.5,196.1" fill="none" stroke="#ff0000" stroke-width="1" shape-rendering="crispEdges"/>
<polyline points="3.5,514.0 11.5,510.8 19.5,507.0 27.5,503.8 35.5,500.5 43.5,498.8 51.5,498.1 59.5,497.1 67.5,495.3 75.5,492.0 83.5,489.0 91.5,485.4 99.5,480.5 107.5,472.0 115.5,458.0 123.5,441.7 131.5,428.0 139.5,415.7 147.5,403.4 155.5,392.7 163.5,385.0 171.5,380.5 179.5,372.8 187.5,365.2 195.5,354.5 203.5,343.2 211.5,334.6 219.5,320.8 227.5,307.0 235.5,302.9 243.5,294.8 251.5,286.4 259.5,277.1 267.5,268.2 275.5,258.5 283.5,246.9 291.5,235.3 299.5,226.2 307.5,217.7 315.5,208.8 323.5,200.2 331.5,191.6 339.5,185.4 347.5,180.6 355.5,179.1 363.5,178.9 371.5,178.3 379.5,177.6 387.5,177.0 395.5,176.7 403.5,178.3 411.5,179.2 419.5,178.8 427.5,179.4 435.5,179.5 443.5,179.9 451.5,182.0 459.5,184.9 467.5,187.0 475.5,190.2 483.5,191.6 491.5,192.6 499.5,194.1 507.5,196.7 515.5,201.8 523.5,208.2 531.5,217.0 539.5,222.7 547.5,227.4 555.5,233.5 563.5,238.3 571.5,242.4 579.5,246.0 587.5,249.7 595.5,252.4 603.5,252.9 611.5,253.9 619.5,257.4 627.5,259.1 635.5,258.1 643.5,257.0 651.5,255.2 659.5,254.4 667.5,253.9 675.5,252.0 683.5,252.9 691.5,255.4 699.5,257.5 707.5,260.4 715.5,260.9 723.5,263.1 731.5,269.7 739.5,275.5 747.5,281.7 755.5,285.5 763.5,288.6 771.5,289.1 779.5,291.5 787.5,294.0 795.5,297.6 803.5,303.1 811.5,309.3 819.5,314.8 827.5,320.5 835.5,326.1 843.5,331.5 851.5,338.3 859.5,343.7 867.5,351.8 875.5,360.8 883.5,369.6 891.5,379.5 899.5,391.3 907.5,401.6 915.5,413.8 923.5,423.6 931.5,432.2 939.5,438.6 947.5,444.4 955.5,449.4 963.5,453.0 971.5,453.3 979.5,453.6 987.5,452.3 995.5,450.8 1003.5,448.7 1011.5,448.6 1019.5,447.4 1027.5,446.7 1035.5,443.6 1043.5,439.6 1051.5,436.1 1059.5,433.8 1067.5,429.4 1075.5,424.4 1083.5,420.3 1091.5,414.8 1099.5,407.5 1107.5,398.4 1115.5,392.1 1123.5,385.8 1131.5,378.2 1139.5,370.3 1147.5,363.2 1155.5,355.7 1163.5,345.2 1171.5,334.3 1179.5,324.5 1187.5,315.9 1195.5,310.9 1203.5,306.5 1211.5,299.9 1219.5,293.3 1227.5,286.5 1235.5,279.3 1243.5,272.8 1251.5,265.6 1259.5,260.3 1267.5,254.7 1275.5,249.8 1283.5,244.6 1291.5,238.9" fill="none" stroke="#0000cd" stroke-width="1" shape-rendering="crispEdges"/>
<rect x="3" y="86" width="1625" height="2" fill="#ff0000"/>
<rect x="2" y="84" width="6" height="6" fill="#ff0000"/>
<rect x="4" y="86" width="2" height="2" fill="#fff"/>
<rect x="1622" y="84" width="6" height="6" fill="#ff0000"/>
<rect x="1624" y="86" width="2" height="2" fill="#fff"/>
<rect x="3" y="171" width="1625" height="2" fill="#ff0000"/>
<rect x="2" y="169" width="6" height="6" fill="#ff0000"/>
<rect x="4" y="171" width="2" height="2" fill="#fff"/>
<rect x="1622" y="169" width="6" height="6" fill="#ff0000"/>
<rect x="1624" y="171" width="2" height="2" fill="#fff"/>
<rect x="3" y="252" width="1625" height="2" fill="#00ff00"/>
<rect x="2" y="250" width="6" height="6" fill="#00ff00"/>
<rect x="4" y="252" width="2" height="2" fill="#fff"/>
<rect x="1622" y="250" width="6" height="6" fill="#00ff00"/>
<rect x="1624" y="252" width="2" height="2" fill="#fff"/>
<rect x="3" y="335" width="1625" height="2" fill="#0000cd"/>
<rect x="2" y="333" width="6" height="6" fill="#0000cd"/>
<rect x="4" y="335" width="2" height="2" fill="#fff"/>
<rect x="1622" y="333" width="6" height="6" fill="#0000cd"/>
<rect x="1624" y="335" width="2" height="2" fill="#fff"/>
<rect x="3" y="413" width="1625" height="2" fill="#0000cd"/>
<rect x="2" y="411" width="6" height="6" fill="#0000cd"/>
<rect x="4" y="413" width="2" height="2" fill="#fff"/>
<rect x="1622" y="411" width="6" height="6" fill="#0000cd"/>
<rect x="1624" y="413" width="2" height="2" fill="#fff"/>
<rect x="3" y="496" width="1625" height="2" fill="#0000cd"/>
<rect x="1630" y="81" width="40" height="11" fill="#ff0000"/>
<text x="1634.6" y="90" font-size="10.2" fill="#fff" text-anchor="start" font-weight="normal" textLength="32.2" lengthAdjust="spacingAndGlyphs" stroke="#fff" stroke-width="0.25">1.23062</text>
<rect x="1630" y="132" width="40" height="11" fill="#000000"/>
<text x="1634.6" y="141" font-size="10.2" fill="#fff" text-anchor="start" font-weight="normal" textLength="32.2" lengthAdjust="spacingAndGlyphs" stroke="#fff" stroke-width="0.25">1.22449</text>
<rect x="1630" y="166" width="40" height="11" fill="#ff0000"/>
<text x="1634.6" y="175" font-size="10.2" fill="#fff" text-anchor="start" font-weight="normal" textLength="32.2" lengthAdjust="spacingAndGlyphs" stroke="#fff" stroke-width="0.25">1.22025</text>
<rect x="1630" y="247" width="40" height="11" fill="#00ff00"/>
<text x="1634.6" y="256" font-size="10.2" fill="#fff" text-anchor="start" font-weight="normal" textLength="32.2" lengthAdjust="spacingAndGlyphs" stroke="#fff" stroke-width="0.25">1.21032</text>
<rect x="1630" y="330" width="40" height="11" fill="#0000cd"/>
<text x="1634.6" y="339" font-size="10.2" fill="#fff" text-anchor="start" font-weight="normal" textLength="32.2" lengthAdjust="spacingAndGlyphs" stroke="#fff" stroke-width="0.25">1.20010</text>
<rect x="1630" y="408" width="40" height="11" fill="#0000cd"/>
<text x="1634.6" y="417" font-size="10.2" fill="#fff" text-anchor="start" font-weight="normal" textLength="32.2" lengthAdjust="spacingAndGlyphs" stroke="#fff" stroke-width="0.25">1.19048</text>
<rect x="1630" y="491" width="40" height="11" fill="#0000cd"/>
<text x="1634.6" y="500" font-size="10.2" fill="#fff" text-anchor="start" font-weight="normal" textLength="32.2" lengthAdjust="spacingAndGlyphs" stroke="#fff" stroke-width="0.25">1.18025</text>
<path d="M6,32 L13,32 L9.5,36 Z" fill="#000"/>
<text x="18.6" y="37" font-size="10.2" fill="#000" text-anchor="start" font-weight="normal" textLength="63.4" lengthAdjust="spacingAndGlyphs" stroke="#000" stroke-width="0.25">EURUSD,Daily</text>
<text x="88.5" y="37" font-size="10.2" fill="#000" text-anchor="start" font-weight="normal" textLength="140.5" lengthAdjust="spacingAndGlyphs" stroke="#000" stroke-width="0.25">1.22320 1.22563 1.22260 1.22449</text>
<polyline points="3.5,637.5 11.5,637.8 19.5,641.6 27.5,640.3 35.5,640.0 43.5,645.1 51.5,639.4 59.5,637.0 67.5,637.2 75.5,633.4 83.5,632.3 91.5,631.8 99.5,626.5 107.5,623.6 115.5,619.3 123.5,622.6 131.5,623.0 139.5,623.8 147.5,627.0 155.5,632.0 163.5,627.9 171.5,632.3 179.5,631.7 187.5,630.6 195.5,628.2 203.5,625.6 211.5,621.7 219.5,623.2 227.5,622.8 235.5,628.9 243.5,635.2 251.5,634.0 259.5,634.5 267.5,634.9 275.5,631.0 283.5,628.3 291.5,623.3 299.5,634.6 307.5,638.2 315.5,632.7 323.5,632.3 331.5,631.8 339.5,635.6 347.5,636.2 355.5,643.1 363.5,651.7 371.5,650.6 379.5,650.1 387.5,653.3 395.5,658.5 403.5,660.2 411.5,660.4 419.5,651.0 427.5,653.9 435.5,647.1 443.5,644.3 451.5,645.2 459.5,650.6 467.5,645.1 475.5,654.3 483.5,650.2 491.5,646.8 499.5,649.5 507.5,654.4 515.5,659.7 523.5,661.2 531.5,663.8 539.5,656.8 547.5,654.5 555.5,653.8 563.5,647.2 571.5,643.3 579.5,643.5 587.5,645.0 595.5,645.5 603.5,643.3 611.5,645.1 619.5,656.6 627.5,650.6 635.5,643.8 643.5,645.5 651.5,642.6 659.5,640.2 667.5,645.6 675.5,635.3 683.5,645.1 691.5,650.9 699.5,653.3 707.5,651.7 715.5,650.6 723.5,653.9 731.5,663.7 739.5,663.1 747.5,666.5 755.5,662.8 763.5,661.7 771.5,654.1 779.5,656.0 787.5,654.4 795.5,657.4 803.5,659.0 811.5,657.8 819.5,654.7 827.5,656.5 835.5,656.6 843.5,653.0 851.5,659.2 859.5,662.8 867.5,666.8 875.5,663.4 883.5,664.2 891.5,665.1 899.5,669.2 907.5,665.8 915.5,661.0 923.5,660.2 931.5,661.6 939.5,653.9 947.5,648.3 955.5,643.6 963.5,641.6 971.5,643.1 979.5,642.3 987.5,641.9 995.5,637.5 1003.5,633.5 1011.5,635.9 1019.5,633.9 1027.5,634.4 1035.5,628.8 1043.5,627.2 1051.5,629.4 1059.5,634.0 1067.5,628.0 1075.5,625.8 1083.5,628.1 1091.5,629.2 1099.5,626.9 1107.5,625.7 1115.5,641.5 1123.5,643.3 1131.5,638.2 1139.5,645.2 1147.5,646.6 1155.5,640.7 1163.5,629.8 1171.5,629.8 1179.5,629.4 1187.5,629.6 1195.5,644.1 1203.5,644.6 1211.5,637.1 1219.5,636.7 1227.5,635.6 1235.5,631.3 1243.5,630.2 1251.5,629.4 1259.5,637.5 1267.5,636.9 1275.5,634.0 1283.5,631.7 1291.5,630.4" fill="none" stroke="#1e90ff" stroke-width="1" shape-rendering="crispEdges"/>
<g shape-rendering="crispEdges">
<rect x="3" y="745" width="1" height="13" fill="#c0c0c0"/>
<rect x="11" y="744" width="1" height="14" fill="#c0c0c0"/>
<rect x="19" y="744" width="1" height="14" fill="#c0c0c0"/>
<rect x="27" y="744" width="1" height="14" fill="#c0c0c0"/>
<rect x="35" y="744" width="1" height="14" fill="#c0c0c0"/>
<rect x="43" y="746" width="1" height="12" fill="#c0c0c0"/>
<rect x="51" y="745" width="1" height="13" fill="#c0c0c0"/>
<rect x="59" y="744" width="1" height="14" fill="#c0c0c0"/>
<rect x="67" y="742" width="1" height="16" fill="#c0c0c0"/>
<rect x="75" y="740" width="1" height="18" fill="#c0c0c0"/>
<rect x="83" y="737" width="1" height="21" fill="#c0c0c0"/>
<rect x="91" y="735" width="1" height="23" fill="#c0c0c0"/>
<rect x="99" y="730" width="1" height="28" fill="#c0c0c0"/>
<rect x="107" y="725" width="1" height="33" fill="#c0c0c0"/>
<rect x="115" y="717" width="1" height="41" fill="#c0c0c0"/>
<rect x="123" y="713" width="1" height="45" fill="#c0c0c0"/>
<rect x="131" y="710" width="1" height="48" fill="#c0c0c0"/>
<rect x="139" y="709" width="1" height="49" fill="#c0c0c0"/>
<rect x="147" y="709" width="1" height="49" fill="#c0c0c0"/>
<rect x="155" y="711" width="1" height="47" fill="#c0c0c0"/>
<rect x="163" y="711" width="1" height="47" fill="#c0c0c0"/>
<rect x="171" y="713" width="1" height="45" fill="#c0c0c0"/>
<rect x="179" y="714" width="1" height="44" fill="#c0c0c0"/>
<rect x="187" y="715" width="1" height="43" fill="#c0c0c0"/>
<rect x="195" y="715" width="1" height="43" fill="#c0c0c0"/>
<rect x="203" y="715" width="1" height="43" fill="#c0c0c0"/>
<rect x="211" y="712" width="1" height="46" fill="#c0c0c0"/>
<rect x="219" y="710" width="1" height="48" fill="#c0c0c0"/>
<rect x="227" y="709" width="1" height="49" fill="#c0c0c0"/>
<rect x="235" y="711" width="1" height="47" fill="#c0c0c0"/>
<rect x="243" y="714" width="1" height="44" fill="#c0c0c0"/>
<rect x="251" y="717" width="1" height="41" fill="#c0c0c0"/>
<rect x="259" y="719" width="1" height="39" fill="#c0c0c0"/>
<rect x="267" y="722" width="1" height="36" fill="#c0c0c0"/>
<rect x="275" y="723" width="1" height="35" fill="#c0c0c0"/>
<rect x="283" y="723" width="1" height="35" fill="#c0c0c0"/>
<rect x="291" y="720" width="1" height="38" fill="#c0c0c0"/>
<rect x="299" y="722" width="1" height="36" fill="#c0c0c0"/>
<rect x="307" y="724" width="1" height="34" fill="#c0c0c0"/>
<rect x="315" y="724" width="1" height="34" fill="#c0c0c0"/>
<rect x="323" y="724" width="1" height="34" fill="#c0c0c0"/>
<rect x="331" y="724" width="1" height="34" fill="#c0c0c0"/>
<rect x="339" y="726" width="1" height="32" fill="#c0c0c0"/>
<rect x="347" y="728" width="1" height="30" fill="#c0c0c0"/>
<rect x="355" y="731" width="1" height="27" fill="#c0c0c0"/>
<rect x="363" y="737" width="1" height="21" fill="#c0c0c0"/>
<rect x="371" y="742" width="1" height="16" fill="#c0c0c0"/>
<rect x="379" y="746" width="1" height="12" fill="#c0c0c0"/>
<rect x="387" y="750" width="1" height="8" fill="#c0c0c0"/>
<rect x="395" y="755" width="1" height="3" fill="#c0c0c0"/>
<rect x="403" y="757" width="1" height="2" fill="#c0c0c0"/>
<rect x="411" y="757" width="1" height="7" fill="#c0c0c0"/>
<rect x="419" y="757" width="1" height="7" fill="#c0c0c0"/>
<rect x="427" y="757" width="1" height="8" fill="#c0c0c0"/>
<rect x="435" y="757" width="1" height="7" fill="#c0c0c0"/>
<rect x="443" y="757" width="1" height="5" fill="#c0c0c0"/>
<rect x="451" y="757" width="1" height="4" fill="#c0c0c0"/>
<rect x="459" y="757" width="1" height="5" fill="#c0c0c0"/>
<rect x="467" y="757" width="1" height="4" fill="#c0c0c0"/>
<rect x="475" y="757" width="1" height="6" fill="#c0c0c0"/>
<rect x="483" y="757" width="1" height="6" fill="#c0c0c0"/>
<rect x="491" y="757" width="1" height="5" fill="#c0c0c0"/>
<rect x="499" y="757" width="1" height="6" fill="#c0c0c0"/>
<rect x="507" y="757" width="1" height="8" fill="#c0c0c0"/>
<rect x="515" y="757" width="1" height="12" fill="#c0c0c0"/>
<rect x="523" y="757" width="1" height="16" fill="#c0c0c0"/>
<rect x="531" y="757" width="1" height="20" fill="#c0c0c0"/>
<rect x="539" y="757" width="1" height="21" fill="#c0c0c0"/>
<rect x="547" y="757" width="1" height="21" fill="#c0c0c0"/>
<rect x="555" y="757" width="1" height="20" fill="#c0c0c0"/>
<rect x="563" y="757" width="1" height="17" fill="#c0c0c0"/>
<rect x="571" y="757" width="1" height="13" fill="#c0c0c0"/>
<rect x="579" y="757" width="1" height="10" fill="#c0c0c0"/>
<rect x="587" y="757" width="1" height="8" fill="#c0c0c0"/>
<rect x="595" y="757" width="1" height="6" fill="#c0c0c0"/>
<rect x="603" y="757" width="1" height="4" fill="#c0c0c0"/>
<rect x="611" y="757" width="1" height="3" fill="#c0c0c0"/>
<rect x="619" y="757" width="1" height="6" fill="#c0c0c0"/>
<rect x="627" y="757" width="1" height="7" fill="#c0c0c0"/>
<rect x="635" y="757" width="1" height="4" fill="#c0c0c0"/>
<rect x="643" y="757" width="1" height="3" fill="#c0c0c0"/>
<rect x="651" y="757" width="1" height="1" fill="#c0c0c0"/>
<rect x="659" y="756" width="1" height="2" fill="#c0c0c0"/>
<rect x="667" y="756" width="1" height="2" fill="#c0c0c0"/>
<rect x="675" y="751" width="1" height="7" fill="#c0c0c0"/>
<rect x="683" y="752" width="1" height="6" fill="#c0c0c0"/>
<rect x="691" y="755" width="1" height="3" fill="#c0c0c0"/>
<rect x="699" y="757" width="1" height="1" fill="#c0c0c0"/>
<rect x="707" y="757" width="1" height="3" fill="#c0c0c0"/>
<rect x="715" y="757" width="1" height="4" fill="#c0c0c0"/>
<rect x="723" y="757" width="1" height="6" fill="#c0c0c0"/>
<rect x="731" y="757" width="1" height="14" fill="#c0c0c0"/>
<rect x="739" y="757" width="1" height="20" fill="#c0c0c0"/>
<rect x="747" y="757" width="1" height="27" fill="#c0c0c0"/>
<rect x="755" y="757" width="1" height="31" fill="#c0c0c0"/>
<rect x="763" y="757" width="1" height="33" fill="#c0c0c0"/>
<rect x="771" y="757" width="1" height="32" fill="#c0c0c0"/>
<rect x="779" y="757" width="1" height="31" fill="#c0c0c0"/>
<rect x="787" y="757" width="1" height="30" fill="#c0c0c0"/>
<rect x="795" y="757" width="1" height="30" fill="#c0c0c0"/>
<rect x="803" y="757" width="1" height="31" fill="#c0c0c0"/>
<rect x="811" y="757" width="1" height="30" fill="#c0c0c0"/>
<rect x="819" y="757" width="1" height="29" fill="#c0c0c0"/>
<rect x="827" y="757" width="1" height="28" fill="#c0c0c0"/>
<rect x="835" y="757" width="1" height="27" fill="#c0c0c0"/>
<rect x="843" y="757" width="1" height="25" fill="#c0c0c0"/>
<rect x="851" y="757" width="1" height="26" fill="#c0c0c0"/>
<rect x="859" y="757" width="1" height="28" fill="#c0c0c0"/>
<rect x="867" y="757" width="1" height="32" fill="#c0c0c0"/>
<rect x="875" y="757" width="1" height="34" fill="#c0c0c0"/>
<rect x="883" y="757" width="1" height="36" fill="#c0c0c0"/>
<rect x="891" y="757" width="1" height="37" fill="#c0c0c0"/>
<rect x="899" y="757" width="1" height="40" fill="#c0c0c0"/>
<rect x="907" y="757" width="1" height="41" fill="#c0c0c0"/>
<rect x="915" y="757" width="1" height="40" fill="#c0c0c0"/>
<rect x="923" y="757" width="1" height="38" fill="#c0c0c0"/>
<rect x="931" y="757" width="1" height="38" fill="#c0c0c0"/>
<rect x="939" y="757" width="1" height="34" fill="#c0c0c0"/>
<rect x="947" y="757" width="1" height="29" fill="#c0c0c0"/>
<rect x="955" y="757" width="1" height="23" fill="#c0c0c0"/>
<rect x="963" y="757" width="1" height="18" fill="#c0c0c0"/>
<rect x="971" y="757" width="1" height="14" fill="#c0c0c0"/>
<rect x="979" y="757" width="1" height="10" fill="#c0c0c0"/>
<rect x="987" y="757" width="1" height="7" fill="#c0c0c0"/>
<rect x="995" y="757" width="1" height="3" fill="#c0c0c0"/>
<rect x="1003" y="756" width="1" height="2" fill="#c0c0c0"/>
<rect x="1011" y="753" width="1" height="5" fill="#c0c0c0"/>
<rect x="1019" y="749" width="1" height="9" fill="#c0c0c0"/>
<rect x="1027" y="747" width="1" height="11" fill="#c0c0c0"/>
<rect x="1035" y="743" width="1" height="15" fill="#c0c0c0"/>
<rect x="1043" y="739" width="1" height="19" fill="#c0c0c0"/>
<rect x="1051" y="737" width="1" height="21" fill="#c0c0c0"/>
<rect x="1059" y="737" width="1" height="21" fill="#c0c0c0"/>
<rect x="1067" y="734" width="1" height="24" fill="#c0c0c0"/>
<rect x="1075" y="731" width="1" height="27" fill="#c0c0c0"/>
<rect x="1083" y="729" width="1" height="29" fill="#c0c0c0"/>
<rect x="1091" y="729" width="1" height="29" fill="#c0c0c0"/>
<rect x="1099" y="727" width="1" height="31" fill="#c0c0c0"/>
<rect x="1107" y="726" width="1" height="32" fill="#c0c0c0"/>
<rect x="1115" y="730" width="1" height="28" fill="#c0c0c0"/>
<rect x="1123" y="733" width="1" height="25" fill="#c0c0c0"/>
<rect x="1131" y="734" width="1" height="24" fill="#c0c0c0"/>
<rect x="1139" y="737" width="1" height="21" fill="#c0c0c0"/>
<rect x="1147" y="740" width="1" height="18" fill="#c0c0c0"/>
<rect x="1155" y="741" width="1" height="17" fill="#c0c0c0"/>
<rect x="1163" y="736" width="1" height="22" fill="#c0c0c0"/>
<rect x="1171" y="733" width="1" height="25" fill="#c0c0c0"/>
<rect x="1179" y="730" width="1" height="28" fill="#c0c0c0"/>
<rect x="1187" y="729" width="1" height="29" fill="#c0c0c0"/>
<rect x="1195" y="732" width="1" height="26" fill="#c0c0c0"/>
<rect x="1203" y="735" width="1" height="23" fill="#c0c0c0"/>
<rect x="1211" y="735" width="1" height="23" fill="#c0c0c0"/>
<rect x="1219" y="735" width="1" height="23" fill="#c0c0c0"/>
<rect x="1227" y="734" width="1" height="24" fill="#c0c0c0"/>
<rect x="1235" y="732" width="1" height="26" fill="#c0c0c0"/>
<rect x="1243" y="730" width="1" height="28" fill="#c0c0c0"/>
<rect x="1251" y="728" width="1" height="30" fill="#c0c0c0"/>
<rect x="1259" y="729" width="1" height="29" fill="#c0c0c0"/>
<rect x="1267" y="730" width="1" height="28" fill="#c0c0c0"/>
<rect x="1275" y="730" width="1" height="28" fill="#c0c0c0"/>
<rect x="1283" y="729" width="1" height="29" fill="#c0c0c0"/>
<rect x="1291" y="728" width="1" height="30" fill="#c0c0c0"/>
</g>
<polyline points="3.5,749.0 11.5,748.5 19.5,747.5 27.5,746.5 35.5,746.3 43.5,745.5 51.5,744.5 59.5,744.3 67.5,743.8 75.5,743.2 83.5,742.5 91.5,741.4 99.5,739.9 107.5,737.8 115.5,734.6 123.5,731.0 131.5,727.3 139.5,723.5 147.5,720.1 155.5,717.2 163.5,714.6 171.5,712.6 179.5,711.4 187.5,711.2 195.5,711.4 203.5,711.9 211.5,712.3 219.5,712.4 227.5,712.2 235.5,712.2 243.5,712.4 251.5,712.7 259.5,713.1 267.5,713.9 275.5,714.8 283.5,716.0 291.5,717.1 299.5,718.5 307.5,720.0 315.5,721.1 323.5,721.9 331.5,722.5 339.5,722.9 347.5,723.4 355.5,724.4 363.5,726.3 371.5,728.6 379.5,730.9 387.5,733.8 395.5,737.3 403.5,741.3 411.5,745.6 419.5,749.8 427.5,753.7 435.5,756.8 443.5,759.1 451.5,760.9 459.5,762.4 467.5,763.0 475.5,763.4 483.5,763.4 491.5,763.2 499.5,762.9 507.5,763.0 515.5,763.7 523.5,765.0 531.5,766.7 539.5,768.7 547.5,770.4 555.5,772.0 563.5,773.3 571.5,774.1 579.5,774.4 587.5,773.9 595.5,772.8 603.5,771.0 611.5,769.0 619.5,767.3 627.5,765.7 635.5,764.3 643.5,763.1 651.5,762.1 659.5,761.1 667.5,760.2 675.5,759.0 683.5,758.0 691.5,756.9 699.5,756.3 707.5,756.1 715.5,756.2 723.5,756.8 731.5,758.6 739.5,761.0 747.5,764.8 755.5,769.0 763.5,773.0 771.5,776.5 779.5,779.7 787.5,782.5 795.5,785.1 803.5,786.9 811.5,788.1 819.5,788.2 827.5,787.9 835.5,787.3 843.5,786.5 851.5,786.0 859.5,785.9 867.5,786.1 875.5,786.5 883.5,787.1 891.5,788.0 899.5,789.3 907.5,790.8 915.5,792.4 923.5,793.8 931.5,794.8 939.5,795.0 947.5,794.4 955.5,793.1 963.5,791.0 971.5,788.0 979.5,784.6 987.5,780.9 995.5,776.9 1003.5,772.5 1011.5,768.1 1019.5,763.9 1027.5,760.1 1035.5,756.4 1043.5,752.9 1051.5,749.4 1059.5,746.3 1067.5,743.3 1075.5,740.5 1083.5,738.0 1091.5,735.7 1099.5,733.5 1107.5,731.6 1115.5,730.5 1123.5,730.1 1131.5,729.8 1139.5,730.2 1147.5,731.3 1155.5,732.6 1163.5,733.4 1171.5,734.1 1179.5,734.5 1187.5,734.4 1195.5,734.4 1203.5,734.5 1211.5,734.3 1219.5,733.6 1227.5,732.8 1235.5,732.3 1243.5,732.0 1251.5,731.7 1259.5,731.7 1267.5,731.5 1275.5,730.9 1283.5,730.3 1291.5,729.6" fill="none" stroke="#ff0000" stroke-width="1" stroke-dasharray="3,3" shape-rendering="crispEdges"/>
<line x1="4" y1="626.5" x2="1627" y2="626.5" stroke="#c0c0c0" stroke-width="1" stroke-dasharray="3,3" />
<line x1="4" y1="667.5" x2="1627" y2="667.5" stroke="#c0c0c0" stroke-width="1" stroke-dasharray="3,3" />
<text x="7" y="607" font-size="10.2" fill="#000" text-anchor="start" font-weight="normal" textLength="68" lengthAdjust="spacingAndGlyphs" stroke="#000" stroke-width="0.25">RSI(14) 66.3913</text>
<text x="1632.5" y="605" font-size="10.2" fill="#000" text-anchor="start" font-weight="normal" textLength="14.5" lengthAdjust="spacingAndGlyphs" stroke="#000" stroke-width="0.25">100</text>
<text x="1631.5" y="630" font-size="10.2" fill="#000" text-anchor="start" font-weight="normal" textLength="9.5" lengthAdjust="spacingAndGlyphs" stroke="#000" stroke-width="0.25">70</text>
<text x="1631.5" y="671" font-size="10.2" fill="#000" text-anchor="start" font-weight="normal" textLength="9.5" lengthAdjust="spacingAndGlyphs" stroke="#000" stroke-width="0.25">30</text>
<text x="1632" y="695" font-size="10.2" fill="#000" text-anchor="start" font-weight="normal" textLength="5" lengthAdjust="spacingAndGlyphs" stroke="#000" stroke-width="0.25">0</text>
<text x="7" y="713" font-size="10.2" fill="#000" text-anchor="start" font-weight="normal" textLength="147.5" lengthAdjust="spacingAndGlyphs" stroke="#000" stroke-width="0.25">MACD(12,26,9) 0.005218 0.004912</text>
<text x="1632" y="712" font-size="10.2" fill="#000" text-anchor="start" font-weight="normal" textLength="40" lengthAdjust="spacingAndGlyphs" stroke="#000" stroke-width="0.25">0.009478</text>
<text x="1632" y="761" font-size="10.2" fill="#000" text-anchor="start" font-weight="normal" textLength="17.5" lengthAdjust="spacingAndGlyphs" stroke="#000" stroke-width="0.25">0.00</text>
<text x="1632" y="800" font-size="10.2" fill="#000" text-anchor="start" font-weight="normal" textLength="45" lengthAdjust="spacingAndGlyphs" stroke="#000" stroke-width="0.25">-0.007778</text>
<rect x="1629" y="757" width="2" height="1" fill="#000"/>
<rect x="1629" y="596" width="2" height="1" fill="#000"/>
<rect x="1629" y="697" width="2" height="1" fill="#000"/>
<rect x="1629" y="702" width="2" height="1" fill="#000"/>
<rect x="1629" y="802" width="2" height="1" fill="#000"/>
<rect x="3" y="804" width="1" height="3" fill="#000"/>
<text x="2.4" y="816" font-size="10.2" fill="#000" text-anchor="start" font-weight="normal" textLength="53" lengthAdjust="spacingAndGlyphs" stroke="#000" stroke-width="0.25">17 Nov 2020</text>
<rect x="67" y="804" width="1" height="3" fill="#000"/>
<text x="66.4" y="816" font-size="10.2" fill="#000" text-anchor="start" font-weight="normal" textLength="53.5" lengthAdjust="spacingAndGlyphs" stroke="#000" stroke-width="0.25">26 Nov 2020</text>
<rect x="131" y="804" width="1" height="3" fill="#000"/>
<text x="130.4" y="816" font-size="10.2" fill="#000" text-anchor="start" font-weight="normal" textLength="46.3" lengthAdjust="spacingAndGlyphs" stroke="#000" stroke-width="0.25">5 Dec 2020</text>
<rect x="195" y="804" width="1" height="3" fill="#000"/>
<text x="194.4" y="816" font-size="10.2" fill="#000" text-anchor="start" font-weight="normal" textLength="51.5" lengthAdjust="spacingAndGlyphs" stroke="#000" stroke-width="0.25">15 Dec 2020</text>
<rect x="259" y="804" width="1" height="3" fill="#000"/>
<text x="258.4" y="816" font-size="10.2" fill="#000" text-anchor="start" font-weight="normal" textLength="51.5" lengthAdjust="spacingAndGlyphs" stroke="#000" stroke-width="0.25">24 Dec 2020</text>
<rect x="323" y="804" width="1" height="3" fill="#000"/>
<text x="322.4" y="816" font-size="10.2" fill="#000" text-anchor="start" font-weight="normal" textLength="44.3" lengthAdjust="spacingAndGlyphs" stroke="#000" stroke-width="0.25">5 Jan 2021</text>
<rect x="387" y="804" width="1" height="3" fill="#000"/>
<text x="386.4" y="816" font-size="10.2" fill="#000" text-anchor="start" font-weight="normal" textLength="49.5" lengthAdjust="spacingAndGlyphs" stroke="#000" stroke-width="0.25">14 Jan 2021</text>
<rect x="451" y="804" width="1" height="3" fill="#000"/>
<text x="450.4" y="816" font-size="10.2" fill="#000" text-anchor="start" font-weight="normal" textLength="49" lengthAdjust="spacingAndGlyphs" stroke="#000" stroke-width="0.25">23 Jan 2021</text>
<rect x="515" y="804" width="1" height="3" fill="#000"/>
<text x="514.4" y="816" font-size="10.2" fill="#000" text-anchor="start" font-weight="normal" textLength="46" lengthAdjust="spacingAndGlyphs" stroke="#000" stroke-width="0.25">2 Feb 2021</text>
<rect x="579" y="804" width="1" height="3" fill="#000"/>
<text x="578.4" y="816" font-size="10.2" fill="#000" text-anchor="start" font-weight="normal" textLength="50.3" lengthAdjust="spacingAndGlyphs" stroke="#000" stroke-width="0.25">11 Feb 2021</text>
<rect x="643" y="804" width="1" height="3" fill="#000"/>
<text x="642.4" y="816" font-size="10.2" fill="#000" text-anchor="start" font-weight="normal" textLength="50.2" lengthAdjust="spacingAndGlyphs" stroke="#000" stroke-width="0.25">20 Feb 2021</text>
<rect x="707" y="804" width="1" height="3" fill="#000"/>
<text x="706.4" y="816" font-size="10.2" fill="#000" text-anchor="start" font-weight="normal" textLength="45.7" lengthAdjust="spacingAndGlyphs" stroke="#000" stroke-width="0.25">2 Mar 2021</text>
<rect x="771" y="804" width="1" height="3" fill="#000"/>
<text x="770.4" y="816" font-size="10.2" fill="#000" text-anchor="start" font-weight="normal" textLength="50.5" lengthAdjust="spacingAndGlyphs" stroke="#000" stroke-width="0.25">11 Mar 2021</text>
<rect x="835" y="804" width="1" height="3" fill="#000"/>
<text x="834.4" y="816" font-size="10.2" fill="#000" text-anchor="start" font-weight="normal" textLength="51" lengthAdjust="spacingAndGlyphs" stroke="#000" stroke-width="0.25">20 Mar 2021</text>
<rect x="899" y="804" width="1" height="3" fill="#000"/>
<text x="898.4" y="816" font-size="10.2" fill="#000" text-anchor="start" font-weight="normal" textLength="50.8" lengthAdjust="spacingAndGlyphs" stroke="#000" stroke-width="0.25">30 Mar 2021</text>
<rect x="963" y="804" width="1" height="3" fill="#000"/>
<text x="962.4" y="816" font-size="10.2" fill="#000" text-anchor="start" font-weight="normal" textLength="45.2" lengthAdjust="spacingAndGlyphs" stroke="#000" stroke-width="0.25">8 Apr 2021</text>
<rect x="1027" y="804" width="1" height="3" fill="#000"/>
<text x="1026.4" y="816" font-size="10.2" fill="#000" text-anchor="start" font-weight="normal" textLength="49.8" lengthAdjust="spacingAndGlyphs" stroke="#000" stroke-width="0.25">17 Apr 2021</text>
<rect x="1091" y="804" width="1" height="3" fill="#000"/>
<text x="1090.4" y="816" font-size="10.2" fill="#000" text-anchor="start" font-weight="normal" textLength="49.6" lengthAdjust="spacingAndGlyphs" stroke="#000" stroke-width="0.25">27 Apr 2021</text>
<rect x="1155" y="804" width="1" height="3" fill="#000"/>
<text x="1154.4" y="816" font-size="10.2" fill="#000" text-anchor="start" font-weight="normal" textLength="49.1" lengthAdjust="spacingAndGlyphs" stroke="#000" stroke-width="0.25">6 May 2021</text>
<rect x="1219" y="804" width="1" height="3" fill="#000"/>
<text x="1218.4" y="816" font-size="10.2" fill="#000" text-anchor="start" font-weight="normal" textLength="54" lengthAdjust="spacingAndGlyphs" stroke="#000" stroke-width="0.25">15 May 2021</text>
<rect x="1283" y="804" width="1" height="3" fill="#000"/>
<text x="1282.4" y="816" font-size="10.2" fill="#000" text-anchor="start" font-weight="normal" textLength="54" lengthAdjust="spacingAndGlyphs" stroke="#000" stroke-width="0.25">25 May 2021</text>
<rect x="0" y="824" width="1670" height="1" fill="#e3e3e3"/>
<rect x="0" y="825" width="1670" height="1" fill="#ffffff"/>
<rect x="0" y="826" width="1670" height="1" fill="#000000"/>
<rect x="0" y="827" width="1670" height="23" fill="#f0f0f0"/>
<rect x="0" y="846" width="1670" height="1" fill="#fafafa"/>
<rect x="208" y="826" width="104" height="18" fill="#ffffff"/>
<rect x="208" y="826" width="1" height="19" fill="#000"/>
<rect x="311" y="826" width="1" height="19" fill="#000"/>
<rect x="208" y="844" width="104" height="1" fill="#000"/>
<text x="14.3" y="840.8" font-size="12.4" fill="#6d6d6d" text-anchor="start" font-weight="normal" textLength="78.7" lengthAdjust="spacingAndGlyphs">USDCHF,Daily</text>
<text x="114.4" y="840.8" font-size="12.4" fill="#6d6d6d" text-anchor="start" font-weight="normal" textLength="82.6" lengthAdjust="spacingAndGlyphs">USDCNH,Daily</text>
<text x="220.6" y="840.8" font-size="12.4" fill="#000" text-anchor="start" font-weight="normal" textLength="79.2" lengthAdjust="spacingAndGlyphs">EURUSD,Daily</text>
<text x="323" y="840.8" font-size="12.4" fill="#6d6d6d" text-anchor="start" font-weight="normal" textLength="82" lengthAdjust="spacingAndGlyphs">AUDUSD,Daily</text>
<text x="427.2" y="840.8" font-size="12.4" fill="#6d6d6d" text-anchor="start" font-weight="normal" textLength="80.8" lengthAdjust="spacingAndGlyphs">USDCAD,Daily</text>
<text x="530.3" y="840.8" font-size="12.4" fill="#6d6d6d" text-anchor="start" font-weight="normal" textLength="94.7" lengthAdjust="spacingAndGlyphs">XAUUSD,Weekly</text>
<text x="646.5" y="840.8" font-size="12.4" fill="#6d6d6d" text-anchor="start" font-weight="normal" textLength="62.4" lengthAdjust="spacingAndGlyphs">USOil,Daily</text>
<rect x="104" y="831" width="1" height="12" fill="#6d6d6d"/>
<rect x="415" y="831" width="1" height="12" fill="#6d6d6d"/>
<rect x="520" y="831" width="1" height="12" fill="#6d6d6d"/>
<rect x="636" y="831" width="1" height="12" fill="#6d6d6d"/>
<rect x="720" y="831" width="1" height="12" fill="#6d6d6d"/>
<path d="M1647.5,832 L1647.5,838 L1644,835 Z" fill="#8a8a8a"/>
<path d="M1662.5,832 L1662.5,838 L1666,835 Z" fill="#8a8a8a"/></svg>
</body></html>
